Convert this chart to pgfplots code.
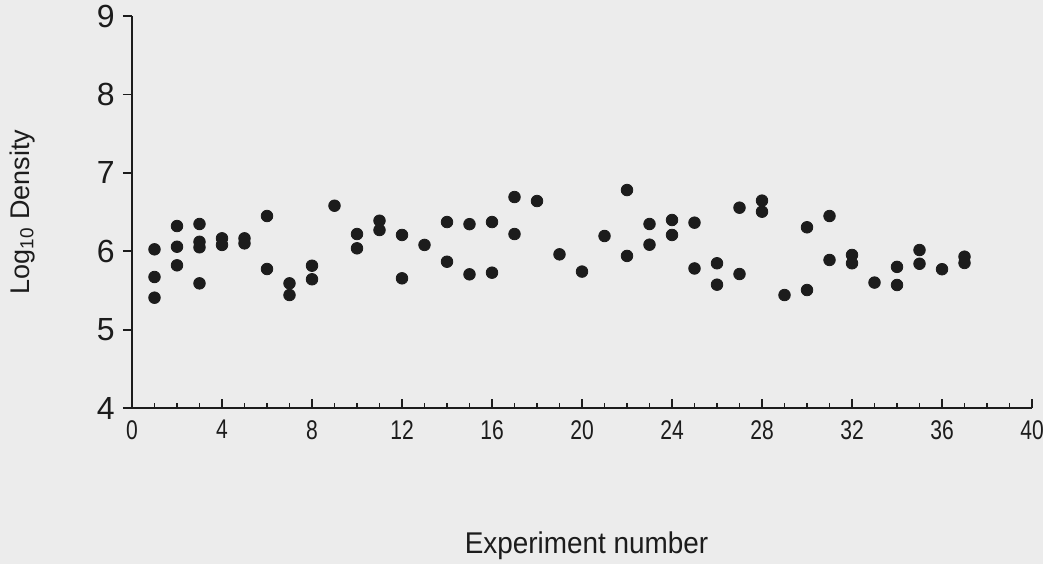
\documentclass[border=0pt]{standalone}
\usepackage{fontspec}
\setmainfont{Liberation Sans}
\newfontfamily\ticknarrow[FakeStretch=0.78]{Liberation Sans}
\newfontfamily\labelsans[FakeStretch=0.93]{Liberation Sans}
\usepackage{pgfplots}
\usepackage{pgfplotstable}
\pgfplotsset{compat=1.18}
\definecolor{paper}{RGB}{236,236,236}
\definecolor{ink}{RGB}{28,28,28}

% log10 cell density for each experiment
\pgfplotstableread{
x y
1 6.024
1 5.671
1 5.407
2 6.321
2 6.057
2 5.820
3 6.347
3 6.12
3 6.05
3 5.59
4 6.164
4 6.08
5 6.164
5 6.10
6 6.449
6 5.773
7 5.59
7 5.441
8 5.815
8 5.642
9 6.58
10 6.219
10 6.037
11 6.389
11 6.27
12 6.207
12 5.654
13 6.08
14 6.372
14 5.866
15 6.345
15 5.705
16 6.372
16 5.726
17 6.691
17 6.219
18 6.64
19 5.96
20 5.74
21 6.194
22 6.78
22 5.94
23 6.347
23 6.083
24 6.398
24 6.207
25 6.364
25 5.78
26 5.846
26 5.573
27 6.555
27 5.709
28 6.645
28 6.504
29 5.441
30 6.305
30 5.505
31 6.449
31 5.888
32 5.952
32 5.846
33 5.60
34 5.80
34 5.569
35 6.015
35 5.84
36 5.77
37 5.93
37 5.85
}\densities

\begin{document}
\begin{tikzpicture}
\useasboundingbox (0,0) rectangle (521.5pt,282pt);
\fill[paper] (0,0) rectangle (521.5pt,282pt);
\begin{axis}[
  at={(66pt,78pt)}, anchor=south west,
  width=450pt, height=196pt, scale only axis,
  xmin=0, xmax=40, ymin=4, ymax=9,
  axis x line*=bottom, axis y line*=left,
  axis line style={-, line width=1pt, ink},
  xtick={0,4,...,40}, minor x tick num=3,
  ytick={4,5,...,9},
  tick align=inside,
  major tick length=4.5pt, minor tick length=2.5pt,
  tick style={ink, line width=0.9pt},
  ytick style={xshift=-4.5pt},
  /pgf/number format/assume math mode=true,
  xticklabel style={font=\ticknarrow\fontsize{13.5}{13.5}\selectfont, text=ink, inner sep=0pt, anchor=north, yshift=-6pt},
  yticklabel style={font=\fontsize{16}{16}\selectfont, text=ink, inner sep=0pt, anchor=east, xshift=-8.5pt},
  xlabel={Experiment number},
  ylabel={Log\textsubscript{10} Density},
  xlabel style={font=\labelsans\fontsize{15}{15}\selectfont, text=ink, at={(axis description cs:0.505,-0.370)}, anchor=base},
  ylabel style={font=\fontsize{13.5}{13.5}\selectfont, text=ink, at={(axis description cs:-0.1222,0.5)}, anchor=center},
  clip=false,
]
\addplot[only marks, mark=*, mark size=2.9pt, ink, mark options={fill=ink, draw=ink}] table {\densities};
\end{axis}
\end{tikzpicture}
\end{document}
